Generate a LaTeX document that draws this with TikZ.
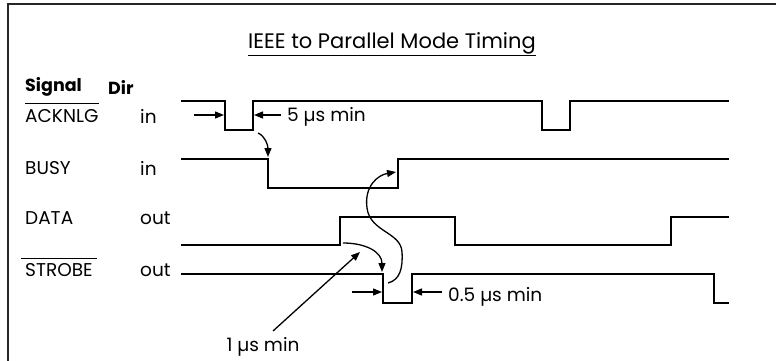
\documentclass[tikz,border=0pt]{standalone}
\usepackage{fontspec}
\setmainfont{Poppins}
\usetikzlibrary{arrows.meta}

\begin{document}
\begin{tikzpicture}[
    x=1pt, y=-1pt,
    wave/.style={line width=1.7pt, line join=miter},
    lbl/.style={anchor=west, inner sep=0pt, font=\fontsize{18.5}{21}\selectfont},
    hdr/.style={lbl, font=\fontsize{17.5}{20}\selectfont\bfseries},
    tmark/.style={-{Triangle[length=9pt,width=7pt]}, line width=1.3pt},
    bar/.style={line width=1.2pt}
]
\useasboundingbox (0,0) rectangle (776,361);

% Frame
\draw[line width=1.8pt, black!85] (8,361) -- (8,4) -- (776,4);

% Title
\node[font=\fontsize{21}{24}\selectfont] (title) at (392,44) {\underline{IEEE to Parallel Mode Timing}};

% Column heads and signal names
\node[hdr] (sig) at (25,87) {Signal};
\node[hdr] (dir) at (108,87) {Dir};

\node[lbl] (ack)    at (25,116) {ACKNLG};
\node[lbl] (ackdir) at (140,116) {in};
\node[lbl] (busy)    at (25,168) {BUSY};
\node[lbl] (busydir) at (140,168) {in};
\node[lbl] (data)    at (25,218) {DATA};
\node[lbl] (datadir) at (140,218) {out};
\node[lbl] (stb)    at (25,270) {STROBE};
\node[lbl] (stbdir) at (140,270) {out};

% Active-low bars
\draw[bar] ([yshift=6pt]ack.north west) -- ([yshift=6pt]ack.north east);
\draw[bar] ([xshift=-4pt,yshift=5pt]stb.north west) -- ([xshift=4pt,yshift=5pt]stb.north east);

% Waveforms
\draw[wave] (181,101) -- (225,101) -- (225,130) -- (253,130) -- (253,101)
    -- (542,101) -- (542,130) -- (570,130) -- (570,101) -- (729,101);
\draw[wave] (181,159) -- (268,159) -- (268,188) -- (398,188) -- (398,159) -- (729,159);
\draw[wave] (181,245) -- (340,245) -- (340,217) -- (455,217) -- (455,245)
    -- (671,245) -- (671,217) -- (729,217);
\draw[wave] (181,274) -- (383,274) -- (383,303) -- (412,303) -- (412,274)
    -- (714,274) -- (714,303) -- (729,303);

% Edge points
\coordinate (ackfall) at (224,115);
\coordinate (ackrise) at (254,115);
\coordinate (ackend)  at (258,133);
\coordinate (busyfall) at (268,157);
\coordinate (busyrise) at (396,172);
\coordinate (datarise) at (343,243);
\coordinate (stbfall) at (382,272);
\coordinate (stblow) at (388,283);
\coordinate (stbin)  at (382,292);
\coordinate (stbout) at (413,292);
\coordinate (onetip) at (360,252);

% 5 us pulse width
\node[lbl] (five) at (287,117) {5 µs min};
\draw[tmark] (194,115) -- (ackfall);
\draw[tmark] (281,115) -- (ackrise);

% 0.5 us pulse width
\node[lbl] (half) at (448,297) {0.5 µs min};
\draw[tmark] (352,292) -- (stbin);
\draw[tmark] (442,292) -- (stbout);

% Handshake sequence
\draw[tmark] (ackend) .. controls (265,136) and (268,145) .. (busyfall);
\draw[tmark] (datarise) .. controls (366,243) and (382,252) .. (stbfall);
\draw[tmark] (stblow) .. controls (400,280) and (403,268) .. (402,252)
    .. controls (401,232) and (370,232) .. (367,208)
    .. controls (364,186) and (378,175) .. (busyrise);

% 1 us setup
\node[font=\fontsize{18.5}{21}\selectfont, inner sep=0pt] (one) at (263,347) {1 µs min};
\draw[tmark] (273,331) -- (onetip);
\end{tikzpicture}
\end{document}
